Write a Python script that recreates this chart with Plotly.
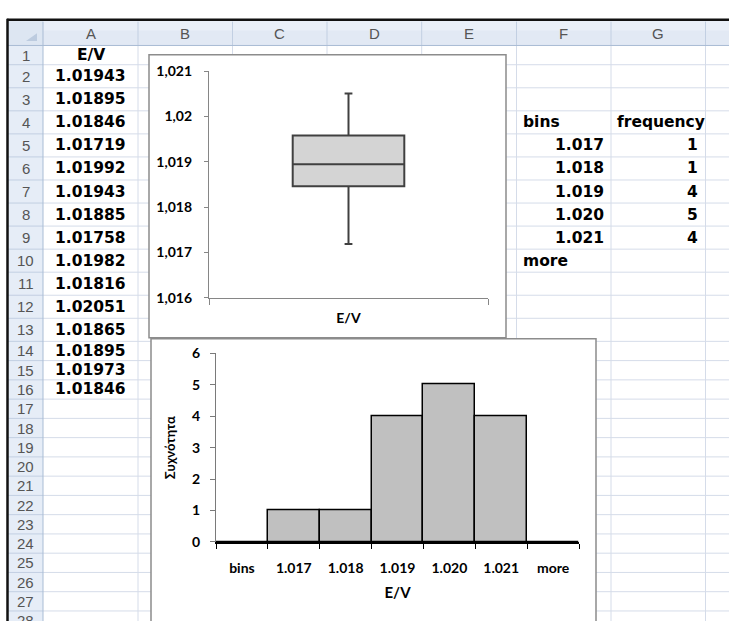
import plotly.graph_objects as go

W, H = 729, 621

# ---------------- data ----------------
column_letters = ["A", "B", "C", "D", "E", "F", "G", ""]
row_numbers = list(range(1, 29))
ev_header = "E/V"
ev_values = [1.01943, 1.01895, 1.01846, 1.01719, 1.01992, 1.01943, 1.01885,
             1.01758, 1.01982, 1.01816, 1.02051, 1.01865, 1.01895, 1.01973, 1.01846]
table_headers = ["bins", "frequency"]
bin_labels = ["1.017", "1.018", "1.019", "1.020", "1.021"]
frequencies = [1, 1, 4, 5, 4]
more_label = "more"
hist_categories = ["bins"] + bin_labels + ["more"]
hist_counts = [0] + frequencies + [0]
box_tickvals = [1.016, 1.017, 1.018, 1.019, 1.020, 1.021]
box_ticktext = ["1,016", "1,017", "1,018", "1,019", "1,02", "1,021"]
hist_ticks = [0, 1, 2, 3, 4, 5, 6]
y_title = "Συχνότητα"


def X(p):
    return p / W


def Y(p):
    return 1 - p / H


# ---------------- sheet geometry ----------------
col_edges = [43, 138, 232.5, 327, 421.7, 516.5, 611, 705.5, 800]
row_edges = [37.5, 57.3]
for _ in range(12):
    row_edges.append(row_edges[-1] + 23.7)
for _ in range(15):
    row_edges.append(row_edges[-1] + 19.8)

GRID = "#d5dce9"
HDR_BORDER = "#a9bcd4"
shapes = []
annotations = []


def rect(x0, y0, x1, y1, fill, line=None, lw=0):
    shapes.append(dict(type="rect", xref="paper", yref="paper", layer="below",
                       x0=X(x0), x1=X(x1), y0=Y(y1), y1=Y(y0), fillcolor=fill,
                       line=dict(color=line or fill, width=lw)))


def hline(y, x0, x1, color, w=1):
    shapes.append(dict(type="line", xref="paper", yref="paper", layer="below",
                       x0=X(x0), x1=X(x1), y0=Y(y), y1=Y(y),
                       line=dict(color=color, width=w)))


def vline(x, y0, y1, color, w=1):
    shapes.append(dict(type="line", xref="paper", yref="paper", layer="below",
                       x0=X(x), x1=X(x), y0=Y(y0), y1=Y(y1),
                       line=dict(color=color, width=w)))


# headers backgrounds
rect(8, 12.5, 729, 37.5, "#e2e9f4")
rect(8, 12.5, 729, 22, "#e9eff8")
rect(8, 37.5, 43, 640, "#e6edf7")
rect(8, 12.5, 43, 37.5, "#dde6f2")
shapes.append(dict(type="path", xref="paper", yref="paper", layer="below",
                   path=f"M {X(37)},{Y(25)} L {X(37)},{Y(33)} L {X(26)},{Y(33)} Z",
                   fillcolor="#bccbdf", line=dict(width=0)))

# grid lines in cells
for y in row_edges[1:]:
    hline(y, 43, 729, GRID)
for x in col_edges[1:8]:
    vline(x, 37.5, 640, GRID)
# header separators
for x in col_edges[1:8]:
    vline(x, 13, 37.5, "#c2cfe2")
for y in row_edges[1:]:
    hline(y, 8, 43, "#c2cfe2")
hline(37.5, 8, 729, HDR_BORDER)
vline(43, 13, 640, HDR_BORDER)

# window black border
hline(11, 7, 729, "#111111", 2.5)
vline(7.5, 10, 640, "#111111", 2.5)

# chart frames
rect(149, 47, 506, 338, "white", "#8c8c8c", 1.5)
rect(151, 339, 596, 660, "white", "#8c8c8c", 1.5)

# ---------------- texts ----------------
HDR_FONT = dict(family="Liberation Sans, Arial, sans-serif", size=15, color="#555555")
CELL_FONT = dict(family="DejaVu Sans, Verdana, sans-serif", size=15.5, color="#000000",
                 weight="bold")


def text(x, y, s, font, xanchor="center"):
    annotations.append(dict(xref="paper", yref="paper", x=X(x), y=Y(y), text=s,
                            showarrow=False, xanchor=xanchor, yanchor="middle",
                            font=font))


for i, letter in enumerate(column_letters):
    if letter:
        text((col_edges[i] + col_edges[i + 1]) / 2, 25.5, letter, HDR_FONT)
for i, n in enumerate(row_numbers):
    text(25.5, (row_edges[i] + row_edges[i + 1]) / 2, str(n), HDR_FONT)


def row_mid(r):
    return (row_edges[r - 1] + row_edges[r]) / 2


colA_mid = (col_edges[0] + col_edges[1]) / 2
text(colA_mid, row_mid(1), ev_header, CELL_FONT)
for i, v in enumerate(ev_values):
    text(colA_mid, row_mid(2 + i), f"{v:.5f}", CELL_FONT)

text(521, row_mid(4), table_headers[0], CELL_FONT, "left")
text(615, row_mid(4), table_headers[1], CELL_FONT, "left")
for i, (b, f) in enumerate(zip(bin_labels, frequencies)):
    text(606, row_mid(5 + i), b, CELL_FONT, "right")
    text(700, row_mid(5 + i), str(f), CELL_FONT, "right")
text(521, row_mid(5 + len(bin_labels)), more_label, CELL_FONT, "left")

# ---------------- charts ----------------
FAM = "Lato, Open Sans, sans-serif"
CH_FONT = dict(family=FAM, size=14, color="#000000", weight="bold")

fig = go.Figure()
fig.add_trace(go.Box(
    y=ev_values, x=[ev_header] * len(ev_values), quartilemethod="inclusive",
    boxpoints=False, width=0.4, whiskerwidth=0.07,
    fillcolor="#d4d4d4", line=dict(color="#404040", width=2),
    xaxis="x", yaxis="y", hoverinfo="skip"))
fig.add_trace(go.Bar(
    x=hist_categories, y=hist_counts,
    marker=dict(color="#c0c0c0", line=dict(color="#000000", width=1.5)),
    xaxis="x2", yaxis="y2", hoverinfo="skip"))

fig.update_layout(
    width=W, height=H, margin=dict(l=0, r=0, t=0, b=0),
    paper_bgcolor="white", plot_bgcolor="rgba(0,0,0,0)",
    showlegend=False, bargap=0, shapes=shapes, annotations=annotations,
    xaxis=dict(domain=[X(209), X(488)], anchor="y", type="category",
               range=[-0.5, 0.5], tickson="boundaries", ticks="outside", ticklen=6,
               tickcolor="#868686", showline=True, linecolor="#868686", linewidth=1.2,
               showgrid=False, zeroline=False, tickfont=CH_FONT, ticklabelstandoff=7,
               fixedrange=True),
    yaxis=dict(domain=[Y(297), Y(64)], anchor="x", range=[1.016, 1.021],
               tickvals=box_tickvals, ticktext=box_ticktext, ticks="outside", ticklen=4,
               tickcolor="#868686", showline=True, linecolor="#868686", linewidth=1.2,
               showgrid=False, zeroline=False, tickfont=CH_FONT, ticklabelstandoff=9,
               fixedrange=True),
    xaxis2=dict(domain=[X(216), X(579)], anchor="y2", type="category",
                categoryorder="array", categoryarray=hist_categories,
                tickson="boundaries", ticks="outside", ticklen=5, tickcolor="#000000",
                showline=True, linecolor="#000000", linewidth=1.5, showgrid=False,
                zeroline=False, tickfont=CH_FONT, ticklabelstandoff=12,
                title=dict(text=ev_header, font=dict(family=FAM, size=15,
                                                     color="#000000", weight="bold"),
                           standoff=13),
                fixedrange=True),
    yaxis2=dict(domain=[Y(548), Y(354)], anchor="x2", range=[0, 6],
                tickvals=hist_ticks, ticks="outside", ticklen=5, tickcolor="#7a7a7a",
                showline=True, linecolor="#7a7a7a", linewidth=1.2, showgrid=False,
                zeroline=False, tickfont=CH_FONT, ticklabelstandoff=7,
                title=dict(text=y_title, font=dict(family=FAM, size=13,
                                                   color="#000000", weight="bold"),
                           standoff=13),
                fixedrange=True),
)

fig.write_html("out.html")
